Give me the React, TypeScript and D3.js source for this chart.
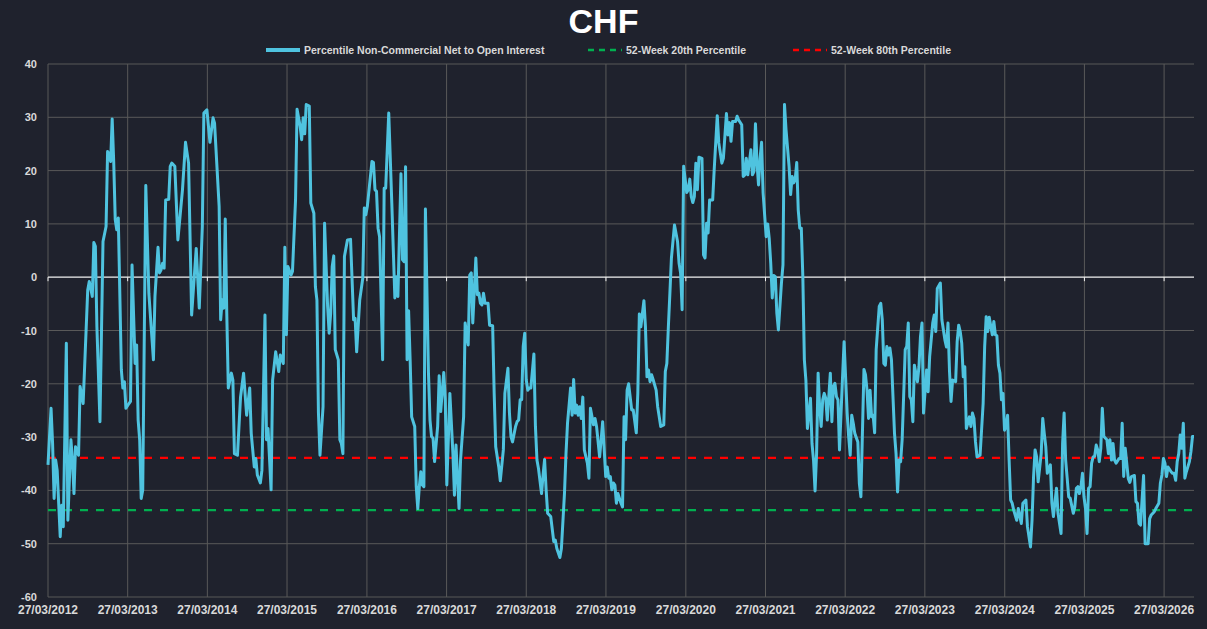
import React from 'react';
import * as d3 from 'd3';

// weekly COT reading: [weeks since 27/03/2012, percentile value]
const netToOpenInterest: [number, number][] = [
  [0, -35.2], [2, -24.6], [3, -31.2], [4, -41.5], [5, -34.3], [6, -36.2], [8, -48.7], [9, -42.8],
  [10, -46.8], [12, -12.4], [13, -45.6], [15, -30.5], [16, -34.3], [17, -40.6], [18, -31.8], [20, -33.4],
  [21, -20.5], [23, -23.7], [26, -2.4], [27, -0.8], [29, -3.6], [30, 6.5], [31, 5.8], [32, -9.3],
  [34, -27.1], [36, 6.7], [38, 9.5], [39, 23.6], [40, 23.0], [41, 21.7], [42, 29.7], [43, 21.7],
  [44, 10.8], [45, 8.9], [46, 11.1], [47, -3.0], [48, -17.4], [49, -20.8], [50, -19.6], [51, -24.6],
  [53, -23.7], [54, -23.3], [55, 2.3], [57, -16.2], [58, -12.7], [59, -26.8], [60, -30.5], [61, -41.5],
  [62, -39.9], [64, 17.2], [66, -3.0], [69, -15.5], [70, -3.6], [72, 5.6], [73, 0.8], [74, 1.4],
  [75, 2.6], [76, 1.7], [77, 14.5], [79, 14.6], [80, 20.8], [81, 21.4], [83, 20.8], [85, 7.0],
  [86, 10.1], [88, 16.4], [90, 25.3], [92, 21.4], [94, -7.1], [97, 5.4], [99, -5.8], [101, 9.5],
  [102, 30.8], [104, 31.4], [106, 25.3], [108, 29.9], [109, 28.9], [112, 13.3], [113, -8.0], [114, -4.3],
  [115, -5.8], [116, 10.9], [117, -6.8], [118, -20.8], [120, -18.0], [121, -19.3], [122, -33.1], [124, -33.4],
  [126, -22.5], [128, -18.0], [130, -25.9], [132, -20.8], [133, -29.3], [135, -35.6], [136, -34.0], [137, -37.1],
  [139, -38.6], [140, -36.2], [142, -7.1], [143, -30.5], [144, -28.4], [146, -39.9], [147, -19.3], [149, -14.0],
  [151, -17.7], [152, -14.6], [154, -16.2], [155, 5.6], [156, -10.8], [157, 2.0], [159, 0.4], [160, 1.1],
  [162, 14.5], [163, 31.5], [165, 28.3], [166, 25.8], [167, 29.9], [168, 26.9], [169, 32.4], [171, 32.1],
  [172, 13.9], [174, 12.0], [175, -1.8], [176, -4.3], [177, -25.5], [178, -33.4], [180, -24.3], [181, 10.1],
  [183, -5.5], [184, -10.5], [185, -6.8], [186, 2.0], [187, 4.0], [188, -13.6], [190, -15.5], [191, -30.5],
  [192, -31.2], [193, -33.1], [194, 3.9], [196, 7.0], [198, 7.1], [200, -8.0], [201, -7.7], [202, -14.0],
  [204, -4.3], [206, -0.2], [207, 13.0], [208, 11.7], [209, 13.3], [212, 21.7], [213, 21.5], [214, 16.4],
  [215, 16.1], [216, 9.2], [217, 7.6], [219, -15.5], [220, 16.7], [221, 16.7], [223, 30.8], [225, 13.9],
  [227, -3.9], [228, 0.1], [229, -3.6], [231, 19.4], [232, 3.3], [233, 2.9], [234, 20.7], [235, -15.5],
  [236, -6.3], [237, -15.5], [238, -26.2], [240, -28.0], [241, -39.3], [242, -43.4], [243, -39.3], [244, -36.5],
  [245, -39.0], [246, -39.3], [247, 12.8], [249, -18.0], [250, -26.8], [251, -29.9], [252, -30.2], [253, -34.6],
  [255, -28.0], [256, -18.5], [257, -25.2], [259, -17.9], [260, -23.0], [261, -39.0], [263, -21.8], [265, -33.1],
  [266, -40.9], [267, -31.5], [269, -43.4], [270, -34.3], [272, -26.2], [273, -8.6], [275, -12.7], [276, 0.4],
  [277, 0.8], [278, -8.6], [280, 3.6], [281, -3.3], [282, -3.0], [283, -4.9], [284, -5.2], [285, -3.0],
  [286, -4.9], [288, -4.9], [289, -9.0], [291, -9.1], [292, -21.8], [293, -31.8], [295, -35.6], [296, -38.2],
  [298, -32.4], [299, -21.8], [301, -17.1], [302, -25.5], [303, -29.9], [304, -30.9], [306, -28.0], [307, -27.1],
  [308, -26.8], [309, -23.0], [310, -23.0], [311, -13.0], [312, -10.5], [313, -19.3], [314, -21.2], [315, -20.8],
  [316, -20.8], [318, -14.4], [319, -28.0], [320, -34.3], [321, -35.9], [323, -40.6], [324, -37.1], [325, -34.2],
  [326, -39.9], [327, -44.3], [329, -44.9], [331, -49.6], [332, -49.3], [333, -50.9], [335, -52.6], [336, -50.9],
  [338, -40.6], [339, -33.1], [340, -27.4], [342, -20.8], [343, -25.9], [344, -19.2], [345, -25.5], [346, -24.0],
  [347, -25.9], [348, -24.3], [349, -26.5], [350, -22.5], [351, -32.4], [353, -34.9], [354, -37.7], [355, -24.6],
  [357, -27.7], [358, -26.5], [359, -28.0], [361, -33.7], [362, -30.5], [363, -27.1], [365, -37.4], [366, -35.6],
  [367, -37.7], [368, -37.4], [369, -39.9], [370, -38.6], [371, -39.0], [372, -42.4], [373, -40.6], [375, -42.4],
  [376, -43.1], [377, -26.2], [378, -30.5], [379, -21.2], [380, -20.0], [382, -24.9], [383, -24.9], [385, -29.2],
  [386, -21.8], [387, -6.9], [388, -9.3], [390, -4.4], [391, -9.3], [392, -18.7], [393, -17.4], [394, -19.6],
  [395, -18.3], [396, -19.2], [398, -21.2], [399, -24.3], [401, -28.0], [403, -27.7], [404, -17.7], [405, -16.2],
  [406, -9.3], [407, -3.0], [408, 3.6], [410, 9.8], [412, 6.7], [413, 2.6], [414, 0.8], [415, -6.1],
  [416, 20.8], [418, 15.9], [419, 16.4], [420, 18.4], [421, 15.1], [422, 14.0], [423, 15.1], [424, 21.4],
  [425, 16.4], [426, 22.5], [428, 22.3], [429, 4.2], [430, 3.6], [431, 10.1], [432, 8.3], [433, 14.5],
  [435, 14.5], [436, 20.2], [438, 30.3], [439, 25.2], [441, 21.4], [442, 22.3], [444, 30.7], [445, 26.7],
  [446, 29.0], [447, 25.5], [448, 29.2], [450, 29.2], [451, 30.2], [452, 29.5], [454, 28.6], [455, 18.9],
  [456, 19.2], [457, 22.3], [458, 19.2], [460, 23.9], [461, 19.2], [462, 19.8], [463, 28.8], [464, 21.4],
  [465, 17.3], [466, 22.3], [467, 25.3], [468, 15.8], [470, 7.6], [471, 10.0], [472, 7.3], [473, 2.6],
  [474, -3.9], [475, 0.3], [476, 0.1], [477, -6.8], [478, -9.9], [480, -1.1], [481, 2.3], [482, 32.4],
  [483, 27.7], [485, 20.8], [486, 15.5], [487, 18.9], [488, 17.7], [489, 18.3], [490, 21.5], [491, 12.6],
  [492, 9.2], [493, 9.2], [494, 0.1], [495, -15.5], [496, -19.3], [497, -28.4], [499, -22.7], [500, -31.2],
  [501, -34.3], [502, -40.1], [503, -33.1], [504, -18.0], [505, -24.3], [506, -28.0], [507, -23.0], [508, -21.8],
  [509, -22.7], [510, -26.8], [512, -18.0], [513, -27.1], [514, -20.5], [515, -19.9], [516, -22.4], [517, -23.0],
  [518, -32.4], [520, -18.7], [521, -12.1], [523, -25.5], [524, -29.9], [525, -33.4], [526, -25.9], [527, -27.4],
  [528, -29.3], [530, -30.9], [531, -38.7], [532, -41.2], [534, -17.3], [535, -18.3], [536, -21.2], [537, -26.5],
  [538, -21.2], [539, -26.2], [540, -25.9], [541, -29.2], [542, -13.6], [544, -5.5], [545, -4.9], [546, -8.0],
  [547, -16.2], [548, -16.5], [549, -13.0], [550, -14.6], [551, -13.3], [552, -15.5], [554, -29.3], [555, -33.1],
  [556, -40.3], [557, -34.3], [558, -34.6], [559, -30.5], [561, -13.6], [562, -13.0], [563, -8.6], [564, -22.4],
  [565, -23.0], [566, -27.1], [567, -16.5], [569, -19.6], [570, -16.8], [571, -11.1], [572, -8.6], [573, -25.5],
  [575, -17.4], [576, -21.5], [577, -14.9], [579, -8.6], [580, -7.1], [581, -10.2], [582, -2.1], [584, -1.1],
  [585, -8.0], [587, -11.8], [588, -13.1], [589, -8.6], [590, -17.7], [591, -23.3], [592, -19.3], [594, -19.6],
  [595, -12.1], [596, -9.0], [597, -10.2], [598, -12.4], [599, -18.7], [600, -16.8], [601, -28.4], [603, -26.2],
  [604, -28.0], [605, -25.5], [606, -26.5], [607, -30.9], [608, -33.7], [610, -33.4], [612, -23.7], [613, -13.0],
  [614, -7.4], [615, -10.2], [616, -7.5], [618, -10.8], [619, -8.3], [620, -10.8], [621, -11.0], [622, -16.5],
  [623, -18.0], [624, -23.0], [625, -21.8], [626, -28.7], [627, -28.0], [628, -25.9], [629, -34.3], [630, -41.8],
  [631, -42.4], [632, -43.7], [634, -45.6], [635, -43.4], [637, -46.2], [638, -42.4], [640, -41.8], [641, -46.8],
  [643, -50.6], [644, -45.6], [645, -37.4], [646, -32.4], [647, -33.7], [648, -38.4], [650, -33.1], [651, -26.5],
  [652, -29.3], [653, -31.8], [654, -36.8], [656, -35.2], [657, -42.4], [658, -44.9], [660, -39.6], [661, -44.3],
  [663, -48.1], [664, -31.2], [665, -25.5], [666, -34.3], [667, -37.7], [668, -41.2], [669, -41.5], [671, -44.3],
  [672, -43.1], [673, -39.6], [674, -39.3], [675, -40.6], [676, -39.3], [677, -36.8], [678, -41.2], [679, -43.4],
  [680, -48.1], [681, -39.6], [682, -39.3], [683, -34.9], [684, -33.7], [685, -33.6], [686, -31.5], [687, -32.4],
  [688, -34.6], [689, -32.1], [690, -24.6], [691, -29.9], [693, -30.5], [694, -33.1], [695, -30.5], [696, -34.3],
  [697, -31.2], [698, -34.3], [699, -34.9], [701, -34.0], [702, -34.0], [703, -27.4], [704, -37.4], [705, -32.1],
  [707, -37.8], [708, -38.5], [709, -37.4], [711, -37.2], [712, -42.1], [713, -42.4], [714, -46.2], [715, -46.5],
  [717, -37.2], [718, -50.0], [720, -50.0], [721, -45.3], [722, -44.6], [724, -44.0], [725, -43.4], [727, -42.4],
  [728, -38.6], [729, -37.1], [730, -34.0], [731, -34.9], [732, -37.4], [733, -35.6], [735, -36.5], [736, -36.8],
  [737, -36.8], [738, -38.1], [739, -34.6], [740, -33.1], [741, -29.6], [742, -32.1], [743, -27.4], [744, -37.7],
  [745, -36.5], [747, -34.6], [748, -32.7], [749, -29.9], [750, -29.9],
];

const pct20 = -43.7;
const pct80 = -33.9;
const yTicks = [-60, -50, -40, -30, -20, -10, 0, 10, 20, 30, 40];
const tickYears = d3.range(2012, 2027);

const legendItems = [
  { label: 'Percentile Non-Commercial Net to Open Interest', color: '#4fc3df', dash: '', x: 266 },
  { label: '52-Week 20th Percentile', color: '#00b050', dash: '6,5', x: 588 },
  { label: '52-Week 80th Percentile', color: '#ff0000', dash: '6,5', x: 793 },
];

const W = 1207;
const H = 629;
const margin = { top: 64, right: 13, bottom: 32, left: 48 };
const font = '"Liberation Sans", Arial, sans-serif';

const startDate = new Date(2012, 2, 27);
const toDate = (w: number) => d3.timeDay.offset(startDate, w * 7);

const App = () => {
  const x = d3
    .scaleTime()
    .domain([startDate, toDate(netToOpenInterest[netToOpenInterest.length - 1][0])])
    .range([margin.left, W - margin.right]);
  const y = d3.scaleLinear().domain([-60, 40]).range([H - margin.bottom, margin.top]);

  const line = d3
    .line<[number, number]>()
    .x((d) => x(toDate(d[0])))
    .y((d) => y(d[1]));

  const x0 = margin.left;
  const x1 = W - margin.right;

  return (
    <svg
      width={W}
      height={H}
      style={{ position: 'absolute', left: 0, top: 0, background: '#1f222d' }}
      fontFamily={font}
    >
      <rect width={W} height={H} fill="#1f222d" />
      <text x={W / 2} y={33} textAnchor="middle" fill="#ffffff" fontSize={34} fontWeight="bold">
        CHF
      </text>

      {legendItems.map((it) => (
        <g key={it.label}>
          <line
            x1={it.x}
            x2={it.x + 34}
            y1={50}
            y2={50}
            stroke={it.color}
            strokeWidth={it.dash ? 2.5 : 4}
            strokeDasharray={it.dash || undefined}
          />
          <text x={it.x + 38} y={53.5} fill="#d9d9d9" fontSize={10.5} fontWeight="bold">
            {it.label}
          </text>
        </g>
      ))}

      {yTicks.map((t) => (
        <g key={t}>
          {t !== 0 && <line x1={x0} x2={x1} y1={y(t)} y2={y(t)} stroke="#595959" strokeWidth={1} />}
          <text x={37} y={y(t) + 4} textAnchor="end" fill="#d9d9d9" fontSize={11} fontWeight="bold">
            {t}
          </text>
        </g>
      ))}

      {tickYears.map((yr) => {
        const px = x(new Date(yr, 2, 27));
        return (
          <g key={yr}>
            <line x1={px} x2={px} y1={y(40)} y2={y(-60)} stroke="#595959" strokeWidth={1} />
            <line x1={px} x2={px} y1={y(0)} y2={y(0) + 4} stroke="#f2f2f2" strokeWidth={1} />
            <text x={px} y={614} textAnchor="middle" fill="#d9d9d9" fontSize={12} fontWeight="bold">
              {d3.timeFormat('%d/%m/%Y')(new Date(yr, 2, 27))}
            </text>
          </g>
        );
      })}

      <line x1={x0} x2={x1} y1={y(0)} y2={y(0)} stroke="#f2f2f2" strokeWidth={1.3} />

      <line x1={x0} x2={x1} y1={y(pct80)} y2={y(pct80)} stroke="#ff0000" strokeWidth={2.2} strokeDasharray="8,8" />
      <line x1={x0} x2={x1} y1={y(pct20)} y2={y(pct20)} stroke="#00b050" strokeWidth={2.2} strokeDasharray="8,8" />

      <path
        d={line(netToOpenInterest) ?? ''}
        fill="none"
        stroke="#4fc3df"
        strokeWidth={3}
        strokeLinejoin="round"
      />
    </svg>
  );
};

export default App;
